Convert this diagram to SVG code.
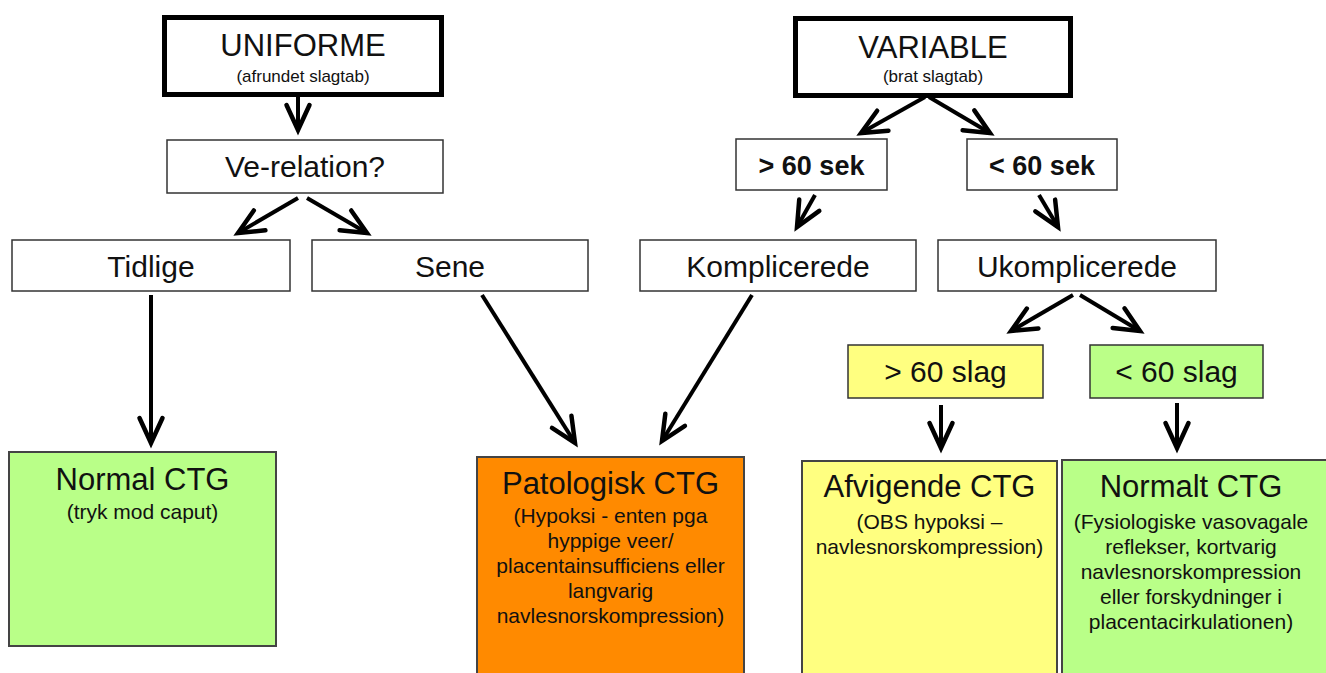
<svg xmlns="http://www.w3.org/2000/svg" width="1326" height="673" viewBox="0 0 1326 673">
  <style>
    text { font-family: "Liberation Sans", Arial, sans-serif; fill: #111; text-anchor: middle; }
    .head { stroke: #000; stroke-width: 5; fill: #fff; }
    .box { stroke: #333; stroke-width: 1.5; fill: #fff; }
    .result { stroke: #444; stroke-width: 2; }
    .t31 { font-size: 31px; }
    .t30 { font-size: 30px; }
    .small { font-size: 17px; }
    .sub { font-size: 21px; }
    .bold { font-size: 27px; font-weight: bold; }
    .conn { stroke: #000; stroke-width: 4; fill: none; marker-end: url(#arrow); }
  </style>
  <defs>
    <marker id="arrow" markerUnits="userSpaceOnUse" markerWidth="60" markerHeight="60" refX="0" refY="0" orient="auto" overflow="visible">
      <path d="M-25,-11.5 L0,0 L-25,11.5" fill="none" stroke="#000" stroke-width="4.5" stroke-linejoin="miter" stroke-linecap="round"/>
    </marker>
  </defs>

  <!-- connectors -->
  <g id="connectors">
    <line class="conn" x1="298" y1="97" x2="298" y2="130"/>
    <line class="conn" x1="298" y1="198" x2="238" y2="233"/>
    <line class="conn" x1="307" y1="198" x2="367" y2="233"/>
    <line class="conn" x1="925" y1="97" x2="861" y2="133"/>
    <line class="conn" x1="929" y1="97" x2="990" y2="133"/>
    <line class="conn" x1="815" y1="195" x2="797" y2="227"/>
    <line class="conn" x1="1039" y1="195" x2="1058" y2="227"/>
    <line class="conn" x1="151" y1="295" x2="151" y2="443"/>
    <line class="conn" x1="482" y1="295" x2="575" y2="443"/>
    <line class="conn" x1="752" y1="295" x2="662" y2="441"/>
    <line class="conn" x1="1073" y1="295" x2="1011" y2="331"/>
    <line class="conn" x1="1080" y1="295" x2="1140" y2="331"/>
    <line class="conn" x1="941" y1="405" x2="941" y2="448"/>
    <line class="conn" x1="1177" y1="403" x2="1177" y2="448"/>
  </g>

  <!-- top level -->
  <g id="uniforme">
    <rect class="head" x="164.5" y="17.5" width="277" height="77"/>
    <text class="t31" x="303" y="56">UNIFORME</text>
    <text class="small" x="303" y="82">(afrundet slagtab)</text>
  </g>
  <g id="variable">
    <rect class="head" x="795.5" y="18.5" width="275" height="77"/>
    <text class="t31" x="933" y="58">VARIABLE</text>
    <text class="small" x="933" y="82">(brat slagtab)</text>
  </g>

  <!-- second level -->
  <g id="ve-relation">
    <rect class="box" x="167" y="140" width="276" height="53"/>
    <text class="t30" x="305" y="177">Ve-relation?</text>
  </g>
  <g id="over-60-sek">
    <rect class="box" x="736" y="139" width="151" height="51"/>
    <text class="bold" x="811.5" y="175">&gt; 60 sek</text>
  </g>
  <g id="under-60-sek">
    <rect class="box" x="967" y="139" width="150" height="51"/>
    <text class="bold" x="1042" y="175">&lt; 60 sek</text>
  </g>

  <!-- third level -->
  <g id="tidlige">
    <rect class="box" x="12" y="240" width="278" height="51"/>
    <text class="t30" x="151" y="277">Tidlige</text>
  </g>
  <g id="sene">
    <rect class="box" x="312" y="240" width="276" height="51"/>
    <text class="t30" x="450" y="277">Sene</text>
  </g>
  <g id="komplicerede">
    <rect class="box" x="640" y="240" width="276" height="51"/>
    <text class="t30" x="778" y="277">Komplicerede</text>
  </g>
  <g id="ukomplicerede">
    <rect class="box" x="938" y="240" width="278" height="51"/>
    <text class="t30" x="1077" y="277">Ukomplicerede</text>
  </g>

  <!-- beat count -->
  <g id="over-60-slag">
    <rect class="box" x="848" y="345" width="195" height="53" fill="#ffff80" style="fill:#ffff80"/>
    <text class="t30" x="945.5" y="382">&gt; 60 slag</text>
  </g>
  <g id="under-60-slag">
    <rect class="box" x="1090" y="345" width="173" height="53" style="fill:#bbff88"/>
    <text class="t30" x="1176.5" y="382">&lt; 60 slag</text>
  </g>

  <!-- outcomes -->
  <g id="normal-ctg">
    <rect class="result" x="9" y="452" width="267" height="194" fill="#b9ff88"/>
    <text class="t31" x="142.5" y="490">Normal CTG</text>
    <text class="sub" x="142.5" y="519">(tryk mod caput)</text>
  </g>
  <g id="patologisk-ctg">
    <rect class="result" x="477" y="457" width="267" height="230" fill="#ff8a00"/>
    <text class="t31" x="610.5" y="494">Patologisk CTG</text>
    <text class="sub" x="610.5" y="523">(Hypoksi - enten pga</text>
    <text class="sub" x="610.5" y="548">hyppige veer/</text>
    <text class="sub" x="610.5" y="573">placentainsufficiens eller</text>
    <text class="sub" x="610.5" y="598">langvarig</text>
    <text class="sub" x="610.5" y="623">navlesnorskompression)</text>
  </g>
  <g id="afvigende-ctg">
    <rect class="result" x="802" y="461" width="255" height="230" fill="#ffff80"/>
    <text class="t31" x="929.5" y="497">Afvigende CTG</text>
    <text class="sub" x="929.5" y="529">(OBS hypoksi –</text>
    <text class="sub" x="929.5" y="554">navlesnorskompression)</text>
  </g>
  <g id="normalt-ctg">
    <rect class="result" x="1062" y="460" width="280" height="230" fill="#b9ff88"/>
    <text class="t31" x="1191" y="497">Normalt CTG</text>
    <text class="sub" x="1191" y="529">(Fysiologiske vasovagale</text>
    <text class="sub" x="1191" y="554">reflekser, kortvarig</text>
    <text class="sub" x="1191" y="579">navlesnorskompression</text>
    <text class="sub" x="1191" y="604">eller forskydninger i</text>
    <text class="sub" x="1191" y="629">placentacirkulationen)</text>
  </g>
</svg>
